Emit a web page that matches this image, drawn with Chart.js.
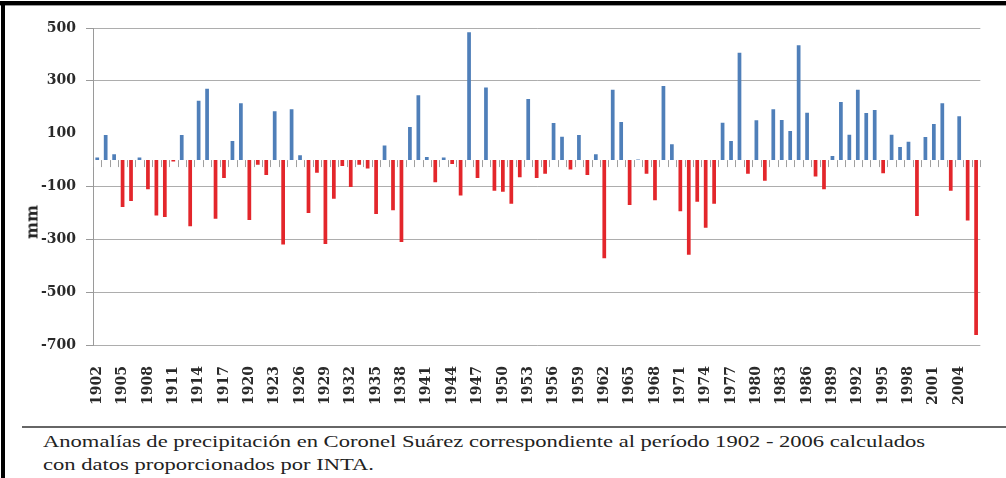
<!DOCTYPE html>
<html>
<head>
<meta charset="utf-8">
<script src="https://cdn.jsdelivr.net/npm/chart.js@4"></script>
<style>
  body { margin: 0; background: #fff; }
  #wrap { position: relative; width: 1006px; height: 478px; overflow: hidden; background: #fff; }
  #frameTop { position: absolute; left: 0; top: 1px; width: 1006px; height: 4px; background: #000; }
  #frameTop2 { position: absolute; left: 0; top: 5px; width: 1006px; height: 1px; background: #999; }
  #frameLeft { position: absolute; left: 1px; top: 1px; width: 4px; height: 478px; background: #000; }
  #grafico { position: absolute; left: 0; top: 0; }
  #ytitle { position: absolute; left: 32px; top: 222px; transform: translate(-50%, -50%) rotate(-90deg);
            font-family: 'DejaVu Serif', serif; font-weight: bold; font-size: 16px; color: #222; }
  #sep { position: absolute; left: 22px; top: 426px; width: 984px; height: 2px; background: #666; }
  #caption { position: absolute; left: 43px; top: 430px; font-family: 'Liberation Serif', 'DejaVu Serif';
             font-size: 16px; line-height: 23px; color: #222; transform-origin: 0 0; white-space: nowrap; }
</style>
</head>
<body>
<div id="wrap">
  <canvas id="grafico" width="1006" height="420"></canvas>
  <div id="frameTop"></div>
  <div id="frameTop2"></div>
  <div id="frameLeft"></div>
  <div id="ytitle">mm</div>
  <div id="sep"></div>
  <div id="caption"><span id="linea1">Anomalías de precipitación en Coronel Suárez correspondiente al período 1902 - 2006 calculados</span><br>con datos proporcionados por INTA.</div>
</div>
<script>
// Años y anomalías de precipitación (mm)
var years = [];
for (var a = 1902; a <= 2006; a++) years.push(String(a));

var anomalias = [
  10, 95, 22, -178, -155, 10, -110, -210, -215, -5,        // 1902-1911
  95, -250, 225, 270, -222, -68, 72, 215, -227, -18,       // 1912-1921
  -56, 185, -320, 192, 18, -200, -48, -318, -146, -22,     // 1922-1931
  -102, -18, -32, -204, 55, -190, -310, 125, 245, 12,      // 1932-1941
  -84, 10, -15, -134, 484, -68, 275, -116, -120, -165,     // 1942-1951
  -65, 231, -68, -52, 140, 88, -36, 95, -56, 22,           // 1952-1961
  -372, 266, 144, -170, 2, -52, -152, 280, 60, -194,       // 1962-1971
  -358, -158, -256, -165, 141, 72, 406, -52, 151, -78,     // 1972-1981
  192, 152, 110, 435, 179, -62, -110, 15, 220, 96,         // 1982-1991
  266, 178, 190, -50, 96, 50, 69, -212, 87, 137,           // 1992-2001
  215, -116, 166, -229, -662                               // 2002-2006
];

var yTicks = { min: -700, max: 500, step: 200 };

var azul = '#4f7fb9';
var rojo = '#e3262b';

// marcas cortas debajo del eje cero, entre categorías
var marcasCero = {
  id: 'marcasCero',
  beforeDatasetsDraw: function(chart) {
    var x = chart.scales.x, y = chart.scales.y, ctx = chart.ctx;
    var y0 = y.getPixelForValue(0);
    var half = (x.getPixelForValue(1) - x.getPixelForValue(0)) / 2;
    ctx.save();
    ctx.strokeStyle = '#a0a0a0';
    ctx.lineWidth = 1;
    ctx.beginPath();
    for (var i = 0; i <= years.length; i++) {
      var px = Math.round(x.getPixelForValue(i) - half) + 0.5;
      ctx.moveTo(px, y0);
      ctx.lineTo(px, y0 + 7);
    }
    ctx.stroke();
    ctx.restore();
  }
};

var fuenteEjes = { family: "'DejaVu Serif', serif", weight: 'bold', size: 14 };

var ctx = document.getElementById('grafico').getContext('2d');
new Chart(ctx, {
  type: 'bar',
  data: {
    labels: years,
    datasets: [{
      data: anomalias,
      backgroundColor: function(c) { return c.raw < 0 ? rojo : azul; },
      barPercentage: 0.44,
      categoryPercentage: 1
    }]
  },
  options: {
    responsive: false,
    animation: false,
    layout: { padding: { top: 28, right: 20, left: 0, bottom: 0 } },
    plugins: { legend: { display: false }, tooltip: { enabled: false } },
    scales: {
      x: {
        afterFit: function(s) { s.height = 75; },
        grid: { display: false },
        border: { display: false },
        ticks: {
          autoSkip: false,
          maxRotation: 90,
          minRotation: 90,
          padding: 13,
          color: '#2a2a2a',
          font: fuenteEjes,
          callback: function(v, i) { return i % 3 === 0 ? this.getLabelForValue(v) : ''; }
        }
      },
      y: {
        min: yTicks.min,
        max: yTicks.max,
        afterFit: function(s) { s.width = 93; },
        ticks: {
          stepSize: yTicks.step,
          padding: 10,
          color: '#2a2a2a',
          font: fuenteEjes
        },
        grid: {
          color: function(c) { return c.tick && c.tick.value === 100 ? 'rgba(0,0,0,0)' : '#adadad'; },
          tickColor: function(c) { return c.tick && c.tick.value === 100 ? 'rgba(0,0,0,0)' : '#9a9a9a'; },
          tickLength: 7
        },
        border: { color: '#9a9a9a' }
      }
    }
  },
  plugins: [marcasCero]
});

// ajustar el ancho del pie de figura al original
var l1 = document.getElementById('linea1');
var k = 882 / l1.getBoundingClientRect().width;
document.getElementById('caption').style.transform = 'scaleX(' + k + ')';
</script>
</body>
</html>
